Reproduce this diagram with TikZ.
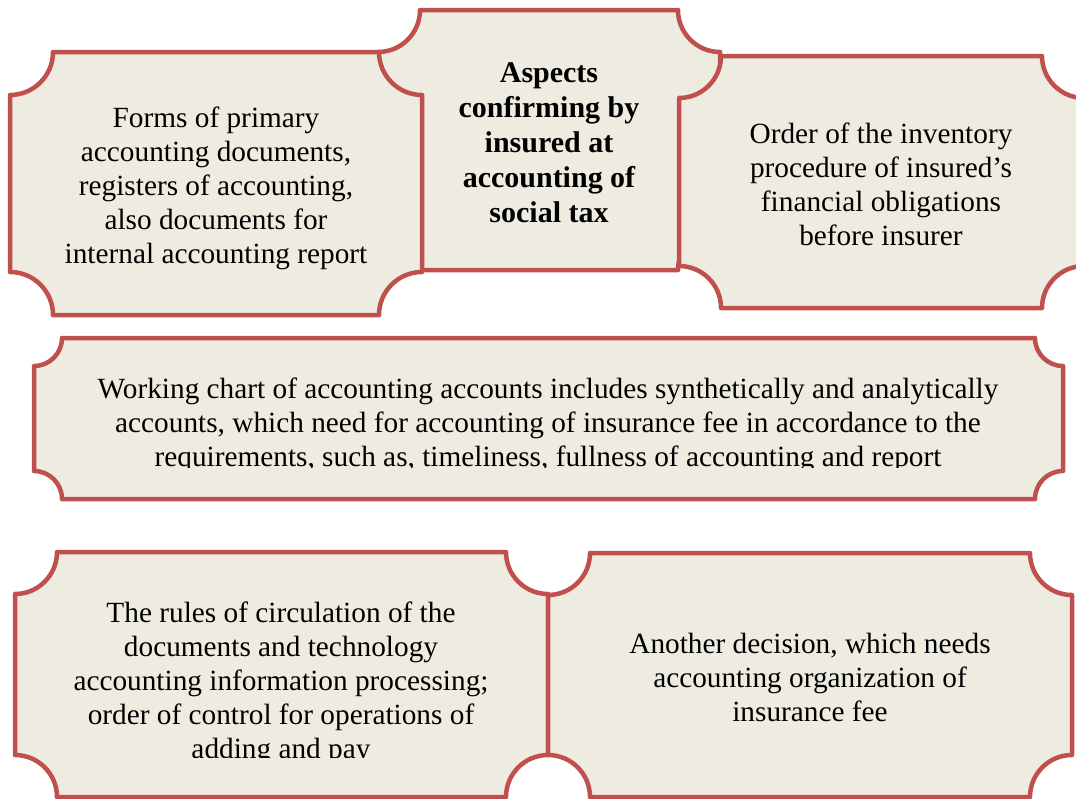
\documentclass[tikz,border=0pt]{standalone}
\usepackage{fontspec}
\setmainfont{Liberation Serif}
\definecolor{plaqueline}{HTML}{C0504D}
\definecolor{plaquefill}{HTML}{EEECE1}

\begin{document}
\begin{tikzpicture}[x=1pt,y=-1pt,
  plaque/.style={draw=plaqueline,fill=plaquefill,line width=4.5pt,line join=round},
  boxtext/.style={align=center,inner sep=0pt,font=\fontsize{29.3}{34}\selectfont}]
\useasboundingbox (0,0) rectangle (1076,798);
% top row, the middle plaque lies behind its neighbours
\draw[plaque] (420,10)--(678,10) arc[start angle=180,end angle=90,radius=42]--(720,228) arc[start angle=270,end angle=180,radius=42]--(420,270) arc[start angle=0,end angle=-90,radius=42]--(378,52) arc[start angle=90,end angle=0,radius=42]--cycle;
\draw[plaque] (53,52)--(379,52) arc[start angle=180,end angle=90,radius=43]--(422,272) arc[start angle=270,end angle=180,radius=43]--(53,315) arc[start angle=0,end angle=-90,radius=43]--(10,95) arc[start angle=90,end angle=0,radius=43]--cycle;
\draw[plaque] (721,56)--(1042,56) arc[start angle=180,end angle=90,radius=42]--(1084,266) arc[start angle=270,end angle=180,radius=42]--(721,308) arc[start angle=0,end angle=-90,radius=42]--(679,98) arc[start angle=90,end angle=0,radius=42]--cycle;
% wide plaque
\draw[plaque] (62,338)--(1035,338) arc[start angle=180,end angle=90,radius=28]--(1063,471) arc[start angle=270,end angle=180,radius=28]--(62,499) arc[start angle=0,end angle=-90,radius=28]--(34,366) arc[start angle=90,end angle=0,radius=28]--cycle;
% bottom row
\draw[plaque] (57,552)--(506,552) arc[start angle=180,end angle=90,radius=42]--(548,755) arc[start angle=270,end angle=180,radius=42]--(57,797) arc[start angle=0,end angle=-90,radius=42]--(15,594) arc[start angle=90,end angle=0,radius=42]--cycle;
\draw[plaque] (590,553)--(1030,553) arc[start angle=180,end angle=90,radius=42]--(1072,755) arc[start angle=270,end angle=180,radius=42]--(590,797) arc[start angle=0,end angle=-90,radius=42]--(548,595) arc[start angle=90,end angle=0,radius=42]--cycle;

\node[boxtext] (forms) at (216,188) {Forms of primary\\accounting documents,\\registers of accounting,\\also documents for\\internal accounting report};
\node[boxtext,font=\fontsize{30}{35}\selectfont\bfseries] (aspects) at (549,143) {Aspects\\confirming by\\insured at\\accounting of\\social tax};
\node[boxtext] (inventory) at (881,184) {Order of the inventory\\procedure of insured's\\financial obligations\\before insurer};
\begin{scope}
\clip (34,338) rectangle (1063,467);
\node[boxtext] (chart) at (548,425) {Working chart of accounting accounts includes synthetically and analytically\\accounts, which need for accounting of insurance fee in accordance to the\\requirements, such as, timeliness, fullness of accounting and report};
\end{scope}
\begin{scope}
\clip (15,552) rectangle (548,757);
\node[boxtext] (rules) at (281,683) {The rules of circulation of the\\documents and technology\\accounting information processing;\\order of control for operations of\\adding and pay};
\end{scope}
\node[boxtext] (decision) at (810,677) {Another decision, which needs\\accounting organization of\\insurance fee};
\end{tikzpicture}
\end{document}
